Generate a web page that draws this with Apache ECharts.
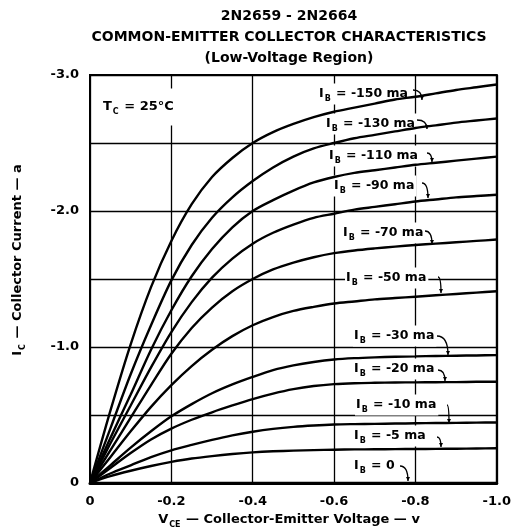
<!DOCTYPE html>
<html><head><meta charset="utf-8">
<script src="https://cdn.jsdelivr.net/npm/echarts@6/dist/echarts.min.js"></script>
<style>html,body{margin:0;padding:0;background:#fff}#c{width:514px;height:530px}</style>
</head><body><div id="c"></div>
<script>
// ---- data (collector-emitter voltage in V, collector current in A) ----
const voltage = [0, -0.05, -0.1, -0.15, -0.2, -0.25, -0.3, -0.35, -0.4, -0.45, -0.5, -0.55, -0.6, -0.65, -0.7, -0.75, -0.8, -0.85, -0.9, -0.95, -1.0];
const ib150 = [0, -0.53, -1.02, -1.44, -1.78, -2.05, -2.25, -2.39, -2.50, -2.58, -2.64, -2.69, -2.73, -2.76, -2.79, -2.82, -2.84, -2.865, -2.89, -2.91, -2.93];
const ib130 = [0, -0.40, -0.80, -1.16, -1.49, -1.75, -1.95, -2.10, -2.22, -2.32, -2.40, -2.46, -2.50, -2.535, -2.56, -2.585, -2.61, -2.63, -2.65, -2.665, -2.68];
const ib110 = [0, -0.33, -0.65, -0.98, -1.27, -1.52, -1.72, -1.88, -2.00, -2.08, -2.15, -2.21, -2.25, -2.28, -2.30, -2.32, -2.34, -2.355, -2.37, -2.385, -2.40];
const ib90  = [0, -0.29, -0.57, -0.85, -1.11, -1.33, -1.51, -1.65, -1.76, -1.84, -1.90, -1.95, -1.98, -2.01, -2.03, -2.05, -2.07, -2.085, -2.10, -2.11, -2.12];
const ib70  = [0, -0.24, -0.48, -0.72, -0.95, -1.14, -1.29, -1.41, -1.50, -1.57, -1.62, -1.66, -1.69, -1.71, -1.725, -1.738, -1.75, -1.76, -1.77, -1.78, -1.79];
const ib50  = [0, -0.19, -0.38, -0.56, -0.72, -0.86, -0.98, -1.08, -1.16, -1.22, -1.265, -1.295, -1.32, -1.335, -1.35, -1.36, -1.37, -1.38, -1.39, -1.40, -1.41];
const ib30  = [0, -0.13, -0.26, -0.38, -0.49, -0.58, -0.66, -0.725, -0.78, -0.83, -0.865, -0.89, -0.908, -0.918, -0.924, -0.928, -0.931, -0.934, -0.936, -0.938, -0.94];
const ib20  = [0, -0.11, -0.22, -0.32, -0.40, -0.465, -0.52, -0.57, -0.617, -0.657, -0.69, -0.713, -0.727, -0.734, -0.737, -0.739, -0.74, -0.741, -0.742, -0.744, -0.745];
const ib10  = [0, -0.07, -0.13, -0.19, -0.24, -0.28, -0.317, -0.35, -0.377, -0.398, -0.413, -0.423, -0.43, -0.433, -0.435, -0.437, -0.439, -0.441, -0.442, -0.444, -0.445];
const ib5   = [0, -0.05, -0.09, -0.125, -0.155, -0.18, -0.198, -0.213, -0.225, -0.233, -0.238, -0.242, -0.245, -0.247, -0.248, -0.249, -0.25, -0.251, -0.252, -0.254, -0.255];
const ib0   = [0, 0, 0, 0, 0, 0, 0, 0, 0, 0, 0, 0, 0, 0, 0, 0, 0, 0, 0, 0, 0];
const curveLabels = ['-150 ma', '-130 ma', '-110 ma', '-90 ma', '-70 ma', '-50 ma', '-30 ma', '-20 ma', '-10 ma', '-5 ma', '0'];
const xTickLabels = ['0', '-0.2', '-0.4', '-0.6', '-0.8', '-1.0'];
const yTickLabels = ['0', '-1.0', '-2.0', '-3.0'];
const titleLines = ['2N2659 - 2N2664', 'COMMON-EMITTER COLLECTOR CHARACTERISTICS', '(Low-Voltage Region)'];

const curveValues = [ib150, ib130, ib110, ib90, ib70, ib50, ib30, ib20, ib10, ib5, ib0];

// ---- annotation layout (pixels) ----
const labelPos = [[318,94],[325,124],[328,156],[333,186],[342,233],[345,278],[353,336],[353,369],[355,405],[353,436],[353,466]];
const arrowPos = [
  [413,90,422,100],[417,120,427,129],[427,153,432,162],[422,183,428,198],[425,231,432,244],
  [438,277,441,293],[437,336,448,355],[438,370,445,381],[447,405,449,423],[437,437,441,447],[400,466,408,481]
];

const FONT = 'DejaVu Sans';
const chart = echarts.init(document.getElementById('c'), null, {renderer: 'canvas'});

const series = curveValues.map((vals, k) => ({
  type: 'line',
  name: curveLabels[k],
  data: voltage.map((v, i) => [v, vals[i]]),
  smooth: 0.3,
  showSymbol: false,
  silent: true,
  lineStyle: {color: '#000', width: 2.4},
  z: 3
}));

const graphics = [];
titleLines.forEach((t, i) => {
  graphics.push({type: 'text', x: 289, y: [16, 37, 58][i], z: 2,
    style: {text: t, font: 'bold 14px ' + FONT, fill: '#000', textAlign: 'center', textVerticalAlign: 'middle'}});
});
const subRich = (fs) => ({
  m: {fontFamily: FONT, fontWeight: 'bold', fontSize: fs, fill: '#000'},
  s: {fontFamily: FONT, fontWeight: 'bold', fontSize: Math.round(fs*0.62), fill: '#000', padding: [9,1,0,1]}
});
curveLabels.forEach((lab, k) => {
  graphics.push({type: 'text', x: labelPos[k][0], y: labelPos[k][1], z: 2,
    style: {text: '{m|I}{s|B}{m| = ' + lab + '}', rich: subRich(12.5), textAlign: 'left', textVerticalAlign: 'middle',
      backgroundColor: '#fff', padding: [2,2,2,1]}});
  const a = arrowPos[k];
  const cpx = a[2], cpy = a[1];
  graphics.push({type: 'bezierCurve', z: 4,
    shape: {x1: a[0], y1: a[1], x2: a[2], y2: a[3], cpx1: cpx, cpy1: cpy},
    style: {stroke: '#000', lineWidth: 1.3, fill: null}});
  const ang = Math.atan2(a[3]-cpy, a[2]-cpx);
  const L = 4, W = 2;
  const bx = a[2] - L*Math.cos(ang), by = a[3] - L*Math.sin(ang);
  graphics.push({type: 'polygon', z: 4,
    shape: {points: [[a[2], a[3]], [bx + W*Math.sin(ang), by - W*Math.cos(ang)], [bx - W*Math.sin(ang), by + W*Math.cos(ang)]]},
    style: {fill: '#000'}});
});
graphics.push({type: 'text', x: 102, y: 107, z: 2,
  style: {text: '{m|T}{s|C}{m| = 25°C}', rich: subRich(13), textAlign: 'left', textVerticalAlign: 'middle',
    backgroundColor: '#fff', padding: [10,3,10,1]}});
graphics.push({type: 'text', x: 289, y: 520, z: 2,
  style: {text: '{m|V}{s|CE}{m| — Collector-Emitter Voltage — v}', rich: subRich(13), textAlign: 'center', textVerticalAlign: 'middle'}});
graphics.push({type: 'text', x: 18, y: 260, rotation: Math.PI/2, z: 2,
  style: {text: '{m|I}{s|C}{m| — Collector Current — a}', rich: subRich(13), textAlign: 'center', textVerticalAlign: 'middle'}});

chart.setOption({
  animation: false,
  backgroundColor: '#fff',
  grid: {left: 90, right: 14, top: 75, bottom: 47, show: true, borderColor: '#000', borderWidth: 2, backgroundColor: 'transparent'},
  xAxis: {
    type: 'value', min: -1, max: 0, interval: 0.2, inverse: true,
    axisLine: {show: true, lineStyle: {color: '#000', width: 3}},
    axisTick: {show: false},
    splitLine: {show: true, lineStyle: {color: '#000', width: 1.3}},
    axisLabel: {margin: 12, color: '#000', fontFamily: FONT, fontWeight: 'bold', fontSize: 13,
      formatter: v => xTickLabels[Math.round(-v / 0.2)]}
  },
  yAxis: {
    type: 'value', min: -3, max: 0, interval: 0.5, inverse: true,
    axisLine: {show: true, lineStyle: {color: '#000', width: 2}},
    axisTick: {show: false},
    splitLine: {show: true, lineStyle: {color: '#000', width: 1.3}},
    axisLabel: {margin: 11, color: '#000', fontFamily: FONT, fontWeight: 'bold', fontSize: 13,
      formatter: v => (Math.abs(v - Math.round(v)) < 1e-9 ? yTickLabels[Math.round(-v)] : '')}
  },
  series: series,
  graphic: graphics
});
</script></body></html>
